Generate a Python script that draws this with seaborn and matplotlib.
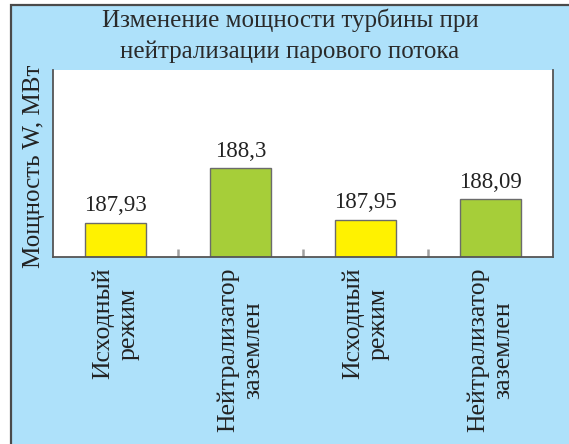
import matplotlib
matplotlib.use("Agg")
import matplotlib.pyplot as plt
import seaborn as sns
import pandas as pd
from matplotlib.patches import Rectangle
from matplotlib.ticker import FixedLocator

# ---- data ----
categories = ["Исходный\nрежим", "Нейтрализатор\nзаземлен", "Исходный\nрежим", "Нейтрализатор\nзаземлен"]
values = [187.93, 188.3, 187.95, 188.09]
value_labels = ["187,93", "188,3", "187,95", "188,09"]
bar_colors = ["#fff200", "#a6ce39", "#fff200", "#a6ce39"]
title = "Изменение мощности турбины при\nнейтрализации парового потока"
ylabel = "Мощность W, МВт"

sns.set_theme(style="white")
plt.rcParams["font.family"] = ["Liberation Serif", "DejaVu Serif"]

W, H = 569, 444
fig = plt.figure(figsize=(W / 100, H / 100), dpi=100)
fig.patch.set_facecolor("white")

blue = "#aee1fa"
# outer frame / background
bg = Rectangle((11 / W, -0.05), 1.2, (H - 5) / H + 0.05, transform=fig.transFigure,
               facecolor=blue, edgecolor="#4a4a4a", linewidth=1.6, zorder=-10)
fig.add_artist(bg)

ax = fig.add_axes([53 / W, (H - 256.7) / H, (553 - 53) / W, (256.7 - 70) / H])
ax.set_facecolor("white")

df = pd.DataFrame({"slot": [str(i) for i in range(len(values))], "value": values})
sns.barplot(data=df, x="slot", y="value", hue="slot", palette=bar_colors, legend=False,
            width=0.49, edgecolor="#6b6b6b", linewidth=1.0, ax=ax, saturation=1)

ax.set_ylim(187.7, 188.96)
ax.set_xlim(-0.5, len(values) - 0.5)
ax.set_yticks([])
ax.set_xlabel("")
ax.set_ylabel("")

for i, (v, lab) in enumerate(zip(values, value_labels)):
    ax.annotate(lab, (i, v), xytext=(0, 4.5), textcoords="offset points",
                ha="center", va="bottom", fontsize=16.5, color="#222222")

ax.set_xticks(range(len(values)))
ax.set_xticklabels(categories, rotation=90, fontsize=18.5, color="#222222",
                   ha="center", va="top", multialignment="center", linespacing=1.2)
ax.tick_params(axis="x", which="major", length=0, pad=8)
ax.xaxis.set_minor_locator(FixedLocator([0.5, 1.5, 2.5]))
ax.tick_params(axis="x", which="minor", direction="in", length=6, width=1.8,
               color="#a0a0a0", bottom=True)

for side in ["left", "bottom", "right"]:
    ax.spines[side].set_visible(True)
    ax.spines[side].set_color("#555555")
    ax.spines[side].set_linewidth(1.3)
ax.spines["top"].set_visible(False)

fig.text(290 / W, 1 - 9 / H, title, ha="center", va="top", fontsize=18,
         color="#2a2a2a", linespacing=1.45)
fig.text(34 / W, 1 - 166 / H, ylabel, ha="center", va="center", rotation=90,
         fontsize=18, color="#222222")

fig.savefig("out.png", dpi=100, facecolor=fig.get_facecolor())
